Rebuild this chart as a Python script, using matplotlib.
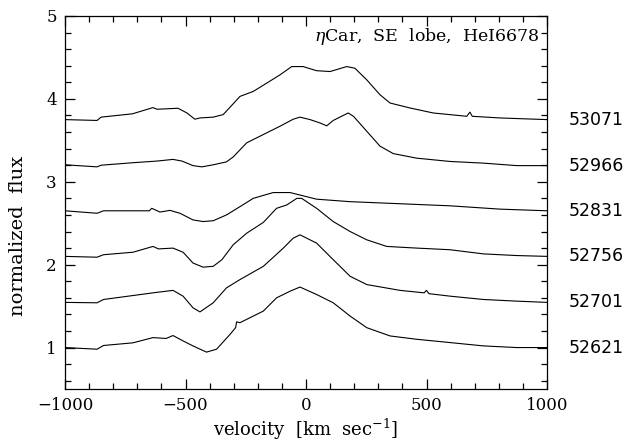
import numpy as np
import matplotlib.pyplot as plt
from matplotlib.ticker import MultipleLocator

plt.rcParams['font.family'] = 'DejaVu Serif'
plt.rcParams['mathtext.fontset'] = 'dejavuserif'

# velocity (km/s) and normalized flux for each epoch (MJD)
v_53071 = [-1000, -867, -850, -720, -635, -618, -531, -494, -461, -440, -385, -344, -315,
           -274, -219, -163, -108, -59, -12, 44, 100, 169, 203, 252, 307, 349, 432, 528,
           667, 680, 690, 805, 1000]
f_53071 = [3.75, 3.74, 3.78, 3.82, 3.895, 3.875, 3.887, 3.83, 3.755, 3.77, 3.78, 3.81, 3.90,
           4.03, 4.09, 4.19, 4.29, 4.39, 4.39, 4.34, 4.33, 4.39, 4.37, 4.23, 4.05, 3.95, 3.89, 3.83,
           3.79, 3.84, 3.79, 3.77, 3.75]

v_52966 = [-1000, -867, -850, -718, -618, -552, -515, -469, -432, -385, -330, -302, -246,
           -177, -108, -53, -25, 17, 58, 86, 113, 175, 197, 252, 307, 362, 459, 598,
           736, 874, 1000]
f_52966 = [3.205, 3.18, 3.20, 3.23, 3.25, 3.27, 3.25, 3.195, 3.18, 3.205, 3.24, 3.30, 3.47,
           3.57, 3.67, 3.755, 3.78, 3.75, 3.71, 3.675, 3.74, 3.83, 3.79, 3.61, 3.43, 3.34, 3.285, 3.245,
           3.225, 3.195, 3.195]

v_52831 = [-1000, -867, -840, -650, -640, -606, -564, -523, -469, -427, -385, -330, -274,
           -219, -136, -66, -25, 44, 183, 390, 598, 805, 1000]
f_52831 = [2.65, 2.62, 2.65, 2.65, 2.68, 2.635, 2.655, 2.62, 2.54, 2.52, 2.53, 2.60, 2.70,
           2.80, 2.87, 2.87, 2.84, 2.79, 2.76, 2.735, 2.71, 2.67, 2.65]

v_52756 = [-1000, -867, -840, -718, -635, -612, -552, -510, -469, -427, -385, -349, -302,
           -246, -177, -122, -80, -38, -18, 44, 113, 183, 252, 335, 459, 598, 736, 874, 1000]
f_52756 = [2.10, 2.09, 2.12, 2.15, 2.22, 2.19, 2.20, 2.15, 2.02, 1.97, 1.98, 2.06, 2.24,
           2.38, 2.51, 2.68, 2.72, 2.80, 2.80, 2.68, 2.52, 2.40, 2.30, 2.22, 2.20, 2.18, 2.13, 2.11, 2.10]

v_52701 = [-1000, -867, -840, -635, -552, -510, -469, -440, -385, -330, -274, -177, -94,
           -53, -25, 44, 113, 183, 252, 390, 490, 500, 510, 598, 736, 874, 1000]
f_52701 = [1.545, 1.54, 1.58, 1.66, 1.69, 1.62, 1.48, 1.43, 1.54, 1.72, 1.82, 1.98, 2.20,
           2.32, 2.36, 2.26, 2.06, 1.86, 1.76, 1.69, 1.66, 1.69, 1.65, 1.62, 1.58, 1.56, 1.545]

v_52621 = [-1000, -867, -840, -718, -635, -580, -552, -510, -469, -413, -371, -315, -292,
           -288, -274, -177, -122, -66, -25, 44, 113, 183, 252, 349, 459, 598, 736, 874, 1000]
f_52621 = [1.00, 0.98, 1.025, 1.057, 1.12, 1.11, 1.145, 1.08, 1.02, 0.945, 0.98, 1.16, 1.24,
           1.31, 1.30, 1.44, 1.60, 1.68, 1.73, 1.64, 1.54, 1.38, 1.24, 1.14, 1.10, 1.06, 1.02, 1.00, 1.00]

epochs = ['53071', '52966', '52831', '52756', '52701', '52621']
vels = [v_53071, v_52966, v_52831, v_52756, v_52701, v_52621]
fluxes = [f_53071, f_52966, f_52831, f_52756, f_52701, f_52621]

fig = plt.figure(figsize=(6.26, 4.41), dpi=100)
ax = fig.add_axes([65/626, 52/441, 482/626, 373/441])

for v, f, lab in zip(vels, fluxes, epochs):
    ax.plot(v, f, color='k', lw=0.8)
    # epoch label at the red end of each spectrum
    ax.text(1.045, f[-1], lab, transform=ax.get_yaxis_transform(), va='center', ha='left',
            fontsize=12.5, family='DejaVu Sans')

ax.set_xlim(-1000, 1000)
ax.set_ylim(0.5, 5)
ax.xaxis.set_major_locator(MultipleLocator(500))
ax.xaxis.set_minor_locator(MultipleLocator(100))
ax.yaxis.set_major_locator(MultipleLocator(1))
ax.yaxis.set_minor_locator(MultipleLocator(0.2))
ax.tick_params(which='both', direction='in', top=True, right=True, labelsize=12, pad=6)
ax.tick_params(which='major', length=7, width=0.9)
ax.tick_params(which='minor', length=4, width=0.9)
for s in ax.spines.values():
    s.set_linewidth(0.9)

ax.text(0.985, 0.945, r'$\eta$Car,  SE  lobe,  HeI6678', transform=ax.transAxes,
        ha='right', va='center', fontsize=12.5)
ax.set_xlabel(r'velocity  [km  sec$^{-1}$]', fontsize=13)
ax.xaxis.set_label_coords(0.5, -0.075)
ax.set_ylabel('normalized  flux', fontsize=14)
ax.yaxis.set_label_coords(-0.078, 0.41)

fig.savefig('out.png', dpi=100)
